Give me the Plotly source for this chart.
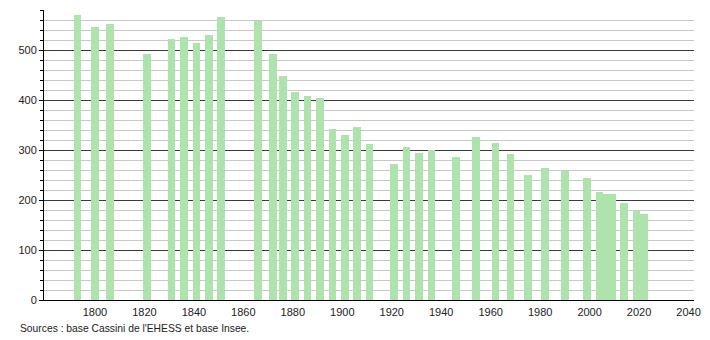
import plotly.graph_objects as go

years = [1793, 1800, 1806, 1821, 1831, 1836, 1841, 1846, 1851, 1866,
         1872, 1876, 1881, 1886, 1891, 1896, 1901, 1906, 1911, 1921,
         1926, 1931, 1936, 1946, 1954, 1962, 1968, 1975, 1982, 1990,
         1999, 2004, 2006, 2009, 2014, 2019, 2022]
population = [570, 546, 552, 492, 522, 526, 514, 530, 566, 559,
              492, 448, 417, 408, 404, 342, 330, 346, 312, 272,
              306, 294, 300, 286, 326, 314, 292, 250, 264, 259,
              244, 216, 213, 212, 194, 179, 172]
x_ticks = [1800, 1820, 1840, 1860, 1880, 1900, 1920, 1940, 1960, 1980, 2000, 2020, 2040]
y_ticks = [0, 100, 200, 300, 400, 500]
source_text = "Sources : base Cassini de l'EHESS et base Insee."

fig = go.Figure()
fig.add_trace(go.Bar(
    x=years, y=population, width=3.1,
    marker=dict(color="#aee3ae", line=dict(width=0)),
    hoverinfo="x+y",
))

font = "Liberation Sans, Arial, sans-serif"
fig.update_layout(
    width=710, height=340,
    margin=dict(l=44, r=9, t=10, b=40),
    paper_bgcolor="white", plot_bgcolor="white",
    showlegend=False,
    bargap=0,
    font=dict(family=font, size=11, color="#222"),
    xaxis=dict(
        range=[1779.4, 2042.2],
        tickvals=x_ticks, ticktext=[str(t) for t in x_ticks],
        showgrid=False, zeroline=False,
        showline=True, linecolor="black", linewidth=1,
        ticks="", ticklabelstandoff=2,
        tickfont=dict(family=font, size=11, color="#222"),
    ),
    yaxis=dict(
        range=[0, 580],
        tickvals=y_ticks, ticktext=[str(t) for t in y_ticks],
        showgrid=True, gridcolor="#3a3a3a", gridwidth=1,
        zeroline=False,
        showline=True, linecolor="black", linewidth=1,
        ticks="outside", ticklen=4, tickcolor="black",
        tickfont=dict(family=font, size=11, color="#222"),
        minor=dict(dtick=20, tick0=0, showgrid=True, gridcolor="#c8c8c8",
                   gridwidth=1, ticks="outside", ticklen=3, tickcolor="black"),
    ),
    annotations=[dict(
        text=source_text, xref="paper", yref="paper",
        x=-0.040, y=-0.072, xanchor="left", yanchor="top",
        showarrow=False,
        font=dict(family=font, size=10.3, color="#222"),
    )],
)

fig.write_html("out.html")
